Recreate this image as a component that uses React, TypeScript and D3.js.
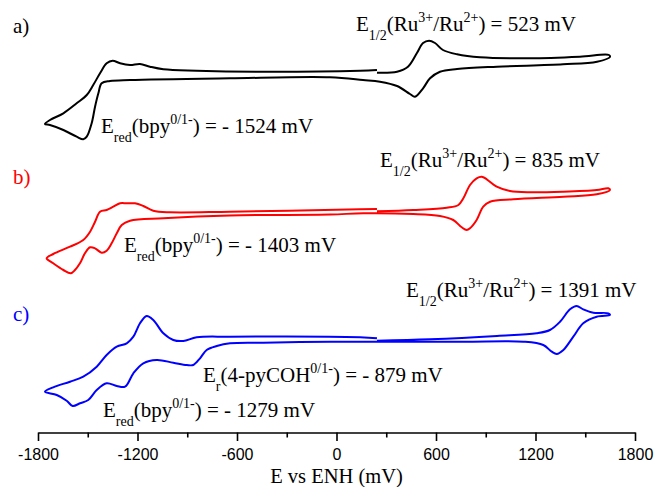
import React, { useEffect, useRef } from "react";
import * as d3 from "d3";

// cyclic voltammograms, potential in mV vs ENH, current in arbitrary (offset) units
const potentialA = [244, 365, 431, 485, 522, 558, 594, 642, 727, 865, 1167, 1468, 1643, 1649,
  1571, 1366, 968, 727, 624, 564, 522, 473, 443, 365, 262, 160, -39, -642, -1245, -1366, -1416,
  -1436, -1456, -1476, -1506, -1527, -1567, -1647, -1728, -1758,
  -1728, -1647, -1567, -1506, -1467, -1426, -1386, -1350, -1305, -1245, -1185, -1125, -1044,
  -843, -441, 142, 244];
const currentA = [359.3, 360.3, 365.3, 379, 389, 391.3, 389, 382, 377.7, 374.7, 373.7, 375.3, 377, 375,
  370.3, 367.7, 365.3, 363, 360.3, 353.7, 343.7, 335.3, 338, 346, 350.3, 352, 354.7, 353.7, 352, 351, 348.7,
  338.7, 325.3, 309, 295.3, 292.7, 295.3, 302, 307, 308,
  312, 318.7, 328.7, 337, 347, 358.7, 368.7, 371.3, 368.7, 367, 368, 365.3, 362.7,
  361.3, 360.3, 361.3, 362];

const potentialB = [244, 463, 665, 735, 765, 805, 845, 876, 906, 966, 1046, 1167, 1368, 1569, 1639, 1649,
  1569, 1368, 1066, 926, 885, 845, 805, 785, 755, 704, 624, 463, 162, -39, -642, -1044, -1245, -1295,
  -1325, -1356, -1386, -1416, -1456, -1486, -1517, -1547, -1577, -1603, -1647, -1708, -1748,
  -1708, -1607, -1527, -1486, -1456, -1426, -1386, -1346, -1305, -1265, -1215, -1165, -1105, -1004,
  -642, 142, 244];
const currentB = [220.7, 222, 224.3, 227, 233.7, 247, 253.7, 255.3, 252.7, 245.3, 241, 239.7, 240.3, 242, 243.7, 242,
  237.7, 235.3, 232.7, 230.3, 225.3, 212, 203.7, 202, 204.7, 212, 216, 218, 218.7, 217.5, 216.5, 213.7, 211.3, 207,
  198.7, 188.7, 181.3, 179.3, 183.7, 184.7, 178.7, 168.7, 162, 158.7, 162, 168.7, 173.7,
  178, 185.3, 192, 200.3, 210.3, 220.3, 222, 225.3, 228.7, 228.7, 228.7, 226, 221.3, 219.7,
  220.3, 222.7, 223];

const potentialC = [244, 564, 968, 1207, 1287, 1348, 1408, 1448, 1488, 1549, 1639, 1649,
  1569, 1488, 1428, 1368, 1328, 1298, 1247, 1127, 765, 242, -39, -441, -642, -722, -783, -823, -864,
  -903, -984, -1084, -1165, -1225, -1275, -1325, -1386, -1446, -1497, -1547, -1591, -1627, -1687, -1758,
  -1708, -1607, -1527, -1446, -1386, -1325, -1265, -1225, -1185, -1145, -1105, -1044, -984, -924,
  -843, -642, 142, 244];
const currentC = [91.3, 92.7, 96, 98.7, 102, 110.3, 122.7, 126, 122.7, 119.3, 118.7, 117,
  115.3, 108.7, 95.3, 82, 78, 80.3, 87, 90.3, 90.3, 90.3, 90.3, 89.3, 88.7, 86, 82, 73.7, 67,
  67, 69.3, 72, 68.7, 58.7, 45.3, 46, 48.7, 42, 32, 28.7, 26, 31.3, 37, 40.3,
  44.7, 50.3, 55.3, 65.3, 77, 85.3, 88.7, 95.3, 108.7, 116, 112, 98.7, 92, 91,
  94.7, 95.3, 94.7, 93.7];

const xTicks = [-1800, -1200, -600, 0, 600, 1200, 1800];
const xMinorTicks = [-1500, -900, -300, 300, 900, 1500];
const xTitle = "E vs ENH (mV)";

const panelLabels = ["a)", "b)", "c)"];
const colors = ["#000000", "#ff0000", "#0000ff"];

// annotation texts: [text, style] with n = normal, sub, sup
type Seg = [string, "n" | "sub" | "sup"];
const ruA: Seg[] = [["E", "n"], ["1/2", "sub"], ["(Ru", "n"], ["3+", "sup"], ["/Ru", "n"], ["2+", "sup"], [") = 523 mV", "n"]];
const bpyA: Seg[] = [["E", "n"], ["red", "sub"], ["(bpy", "n"], ["0/1-", "sup"], [") = - 1524 mV", "n"]];
const ruB: Seg[] = [["E", "n"], ["1/2", "sub"], ["(Ru", "n"], ["3+", "sup"], ["/Ru", "n"], ["2+", "sup"], [") = 835 mV", "n"]];
const bpyB: Seg[] = [["E", "n"], ["red", "sub"], ["(bpy", "n"], ["0/1-", "sup"], [") = - 1403 mV", "n"]];
const ruC: Seg[] = [["E", "n"], ["1/2", "sub"], ["(Ru", "n"], ["3+", "sup"], ["/Ru", "n"], ["2+", "sup"], [") = 1391 mV", "n"]];
const pyC: Seg[] = [["E", "n"], ["r", "sub"], ["(4-pyCOH", "n"], ["0/1-", "sup"], [") = - 879 mV", "n"]];
const bpyC: Seg[] = [["E", "n"], ["red", "sub"], ["(bpy", "n"], ["0/1-", "sup"], [") = - 1279 mV", "n"]];

const serif = "'Liberation Serif', 'Times New Roman', Times, serif";

const App = () => {
  const svgRef = useRef<SVGSVGElement>(null);

  useEffect(() => {
    const width = 654;
    const height = 487;
    const svg = d3.select(svgRef.current);
    svg.selectAll("*").remove();
    svg.attr("width", width).attr("height", height);

    const x = d3.scaleLinear().domain([-1800, 1800]).range([38, 635]);
    const y = d3.scaleLinear().domain([0, 410]).range([432, 22]);

    // axes
    const axisY = 432.5;
    const major = svg
      .append("g")
      .attr("transform", `translate(0,${axisY})`)
      .call(d3.axisBottom(x).tickValues(xTicks).tickSize(8.5).tickSizeOuter(0).tickPadding(7.5).tickFormat((d) => String(d)));
    major.select(".domain").attr("stroke", "#000").attr("stroke-width", 1.6);
    major.selectAll(".tick line").attr("stroke", "#000").attr("stroke-width", 1.6);
    major
      .selectAll(".tick text")
      .attr("fill", "#000")
      .style("font-family", "'Liberation Sans', Arial, sans-serif")
      .style("font-size", "16px");

    const minor = svg
      .append("g")
      .attr("transform", `translate(0,${axisY})`)
      .call(d3.axisBottom(x).tickValues(xMinorTicks).tickSize(5).tickSizeOuter(0).tickFormat(() => ""));
    minor.select(".domain").remove();
    minor.selectAll(".tick line").attr("stroke", "#000").attr("stroke-width", 1.6);

    svg
      .append("text")
      .attr("x", (x(-1800) + x(1800)) / 2)
      .attr("y", 483)
      .attr("text-anchor", "middle")
      .style("font-family", serif)
      .style("font-size", "20.5px")
      .text(xTitle);

    // curves
    const line = d3
      .line<[number, number]>()
      .curve(d3.curveCatmullRom.alpha(0.5))
      .x((d) => x(d[0]))
      .y((d) => y(d[1]));

    const series = [
      d3.zip(potentialA, currentA),
      d3.zip(potentialB, currentB),
      d3.zip(potentialC, currentC),
    ];
    series.forEach((s, i) => {
      svg
        .append("path")
        .datum(s as [number, number][])
        .attr("d", line)
        .attr("fill", "none")
        .attr("stroke", colors[i])
        .attr("stroke-width", 2)
        .attr("stroke-linejoin", "round");
    });

    // panel labels
    const labelY = [33, 184, 321];
    panelLabels.forEach((l, i) => {
      svg
        .append("text")
        .attr("x", 13)
        .attr("y", labelY[i])
        .attr("fill", colors[i])
        .style("font-family", serif)
        .style("font-size", "21px")
        .text(l);
    });

    // annotations
    const notes: [Seg[], number, number][] = [
      [ruA, 356, 31],
      [bpyA, 101, 133],
      [ruB, 380, 167],
      [bpyB, 124, 252],
      [ruC, 406, 297],
      [pyC, 203, 382],
      [bpyC, 103, 417],
    ];
    notes.forEach(([segs, tx, ty]) => {
      const t = svg
        .append("text")
        .attr("x", tx)
        .attr("y", ty)
        .attr("fill", "#000")
        .style("font-family", serif)
        .style("font-size", "21px");
      let shift = 0;
      segs.forEach(([str, kind]) => {
        const target = kind === "sub" ? 9 : kind === "sup" ? -9 : 0;
        t.append("tspan")
          .attr("dy", target - shift)
          .style("font-size", kind === "n" ? "21px" : "14px")
          .text(str);
        shift = target;
      });
    });
  }, []);

  return <svg ref={svgRef} style={{ position: "absolute", left: 0, top: 0 }} />;
};

export default App;
